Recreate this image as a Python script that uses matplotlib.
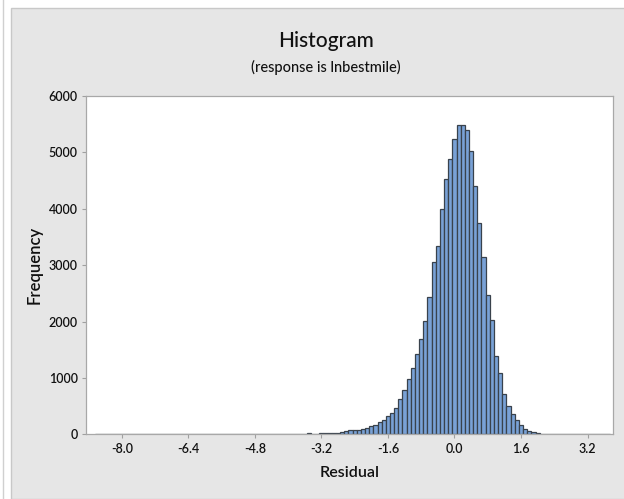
import numpy as np
import matplotlib
matplotlib.use('Agg')
from matplotlib import pyplot as plt
from matplotlib.patches import Rectangle
from matplotlib.lines import Line2D

plt.rcParams['font.family'] = ['Lato', 'DejaVu Sans']

# bin midpoints -8.6 .. 3.7 (width 0.1)
bin_width = 0.1
first_mid = -8.6
counts = [
    1,
    0, 0, 0, 0, 0, 0, 0, 0, 0, 0,
    0, 0, 0, 0, 0, 0, 0, 0, 0, 0,
    0, 0, 0, 0, 0, 0, 0, 0, 0, 0,
    0, 0, 0, 0, 0, 0, 0, 0, 0, 0,
    0,
    4, 5, 5, 5, 5, 6, 6, 6, 6,          # -4.4 .. -3.6
    30, 5, 5,                           # -3.5 .. -3.3
    28, 28, 28, 30, 30, 32,             # -3.2 .. -2.7
    52, 70, 70, 78, 95, 112, 142, 162,  # -2.6 .. -1.9
    227, 257, 325, 372, 458, 620, 777, 975,      # -1.8 .. -1.1
    1170, 1427, 1687, 2014, 2429, 3050, 3348, 3998,  # -1.0 .. -0.3
    4527, 4881, 5238, 5479, 5479, 5400, 5028, 4408,  # -0.2 .. 0.5
    3741, 3147, 2476, 2033, 1380, 1084, 715, 510,    # 0.6 .. 1.3
    357, 251, 163, 95, 59, 35, 24,                   # 1.4 .. 2.0
    12, 10, 8, 8, 7, 6, 6, 5,                        # 2.1 .. 2.8
    2, 2, 2, 2, 0, 0, 0, 0,                          # 2.9 .. 3.6
    1,                                               # 3.7
]
x_ticks = [-8.0, -6.4, -4.8, -3.2, -1.6, 0.0, 1.6, 3.2]
y_ticks = [0, 1000, 2000, 3000, 4000, 5000, 6000]

mids = first_mid + bin_width * np.arange(len(counts))

fig = plt.figure(figsize=(6.24, 4.99), dpi=100)
fig.patch.set_facecolor('white')

# grey panel behind the chart
fig.patches.append(Rectangle((11 / 624, 0), 1, (499 - 8) / 499,
                             transform=fig.transFigure, facecolor='#E6E6E6',
                             edgecolor='#C8C8C8', linewidth=1, zorder=-10))
fig.lines.append(Line2D([3 / 624, 3 / 624], [0, 1], transform=fig.transFigure,
                        color='#D0D0D0', linewidth=1))

ax = fig.add_axes([86 / 624, (499 - 434.3) / 499, (612.5 - 86) / 624, (434.3 - 96) / 499])
ax.set_facecolor('white')

ax.bar(mids, counts, width=bin_width, color='#79A1D6', edgecolor='#39424C',
       linewidth=0.9, align='center')

ax.set_xlim(-8.86, 3.8)
ax.set_ylim(0, 6000)
ax.set_xticks(x_ticks)
ax.set_xticklabels(['%.1f' % v for v in x_ticks])
ax.set_yticks(y_ticks)
for s in ax.spines.values():
    s.set_color('#A8A8A8')
    s.set_linewidth(0.9)
ax.tick_params(length=3, color='#A0A0A0', labelsize=9, pad=3, labelcolor='#111111')
for lab in ax.get_xticklabels() + ax.get_yticklabels():
    lab.set_fontweight('semibold')

ax.set_xlabel('Residual', fontsize=11.5, labelpad=8, fontweight='semibold', color='#111111')
ax.set_ylabel('Frequency', fontsize=12, labelpad=4, fontweight='semibold', color='#111111')

fig.text(326 / 624, 1 - 41 / 499, 'Histogram', ha='center', va='center', fontsize=15,
         fontweight='medium', color='#111111')
fig.text(326 / 624, 1 - 67 / 499, '(response is lnbestmile)', ha='center', va='center',
         fontsize=10.5, fontweight='medium', color='#111111')

plt.savefig('out.png', dpi=100)
